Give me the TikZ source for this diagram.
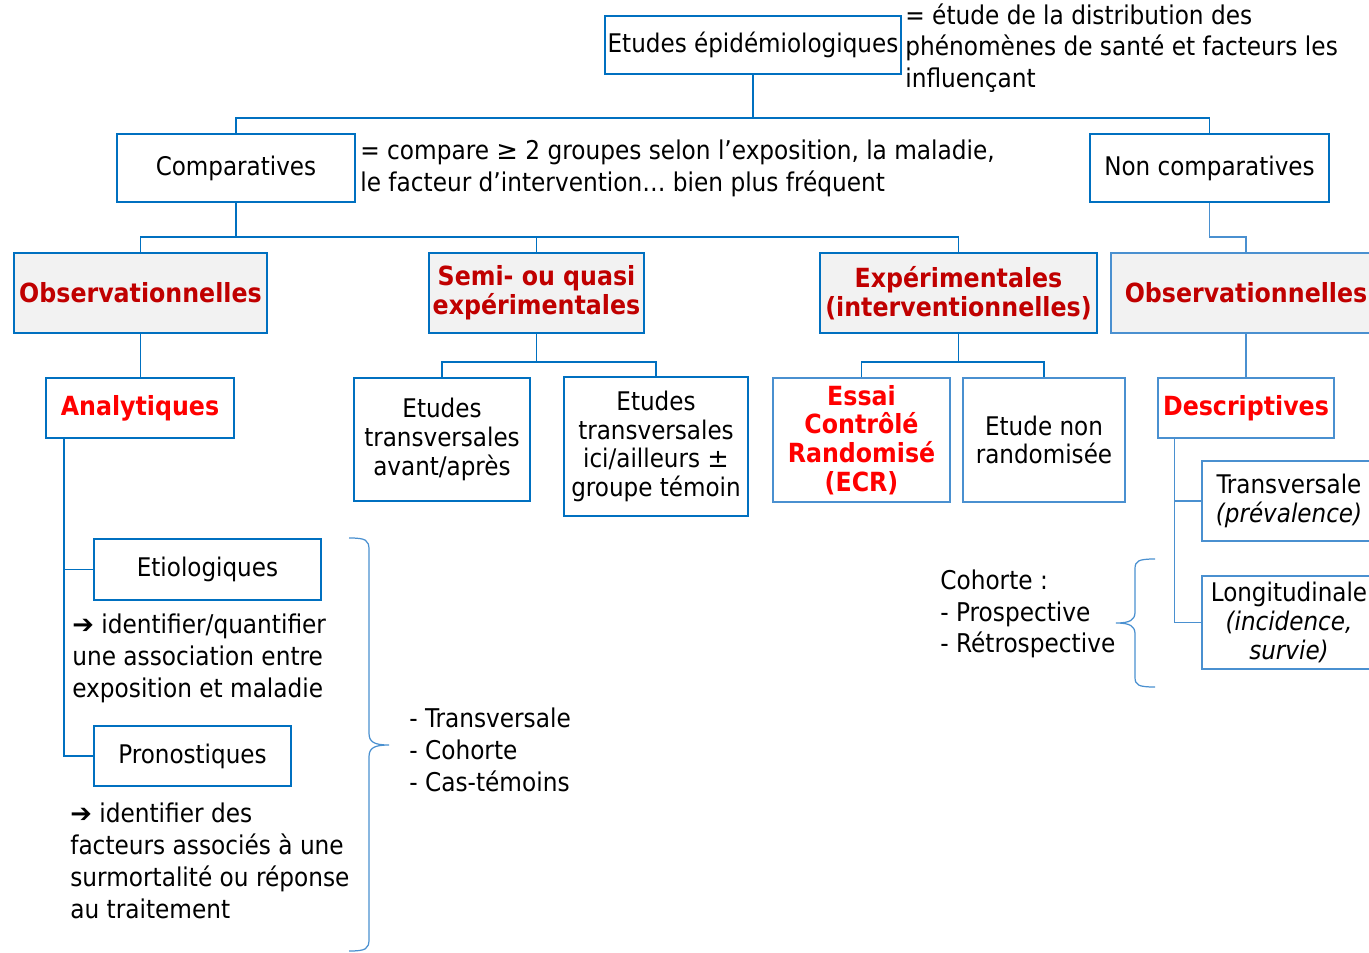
\documentclass[tikz,border=0pt]{standalone}
\usepackage{fontspec}
\setmainfont{DejaVu Sans Condensed}
\newfontfamily\symfont{DejaVu Sans}
\usetikzlibrary{backgrounds,calc}
\definecolor{lineblue}{HTML}{0070C0}
\definecolor{lightblue}{HTML}{4A90D0}
\definecolor{darkred}{HTML}{C00000}
\definecolor{boxgray}{HTML}{F2F2F2}

\begin{document}
\begin{tikzpicture}[x=0.02cm,y=-0.02cm]
    % `catbox' is used for the plain white boxes, `thinbox' for the lighter ones.
    % `family' is used for the grey boxes with dark red titles.
    % `note' is used for the free texts, `brace' for the curly brackets.
    \tikzstyle{catbox} = [draw=lineblue,line width=1.1pt,fill=white,inner sep=1pt,align=center,font=\fontsize{14.6}{16.4}\selectfont]
    \tikzstyle{thinbox} = [catbox,draw=lightblue,line width=0.75pt]
    \tikzstyle{family} = [catbox,fill=boxgray,text=darkred,font=\fontsize{15}{16.4}\bfseries\selectfont]
    \tikzstyle{redtitle} = [text=red,font=\fontsize{15}{16.4}\bfseries\selectfont]
    \tikzstyle{note} = [align=left,inner sep=0pt,anchor=west,font=\fontsize{14.7}{18.1}\selectfont]
    \tikzstyle{link} = [draw=lineblue,line width=1.1pt]
    \tikzstyle{thinlink} = [draw=lightblue,line width=0.75pt]
    \tikzstyle{brace} = [draw=lightblue,line width=0.7pt]
    %
    \useasboundingbox (0,0) rectangle (1369,953);
    % top levels
    \node[catbox,minimum width=5.92cm,minimum height=1.16cm] (epi) at (753,45) {Etudes épidémiologiques};
    \node[note] (epinote) at (905,48) {= étude de la distribution des\\phénomènes de santé et facteurs les\\influençant};
    \node[catbox,minimum width=4.76cm,minimum height=1.36cm] (comp) at (236,168) {Comparatives};
    \node[note] (compnote) at (360,168) {= compare {\symfont≥} 2 groupes selon l’exposition, la maladie,\\le facteur d’intervention… bien plus fréquent};
    \node[catbox,minimum width=4.78cm,minimum height=1.36cm] (noncomp) at (1209.5,168) {Non comparatives};
    % families
    \node[family,minimum width=5.06cm,minimum height=1.6cm] (obsL) at (140.5,293) {Observationnelles};
    \node[family,minimum width=4.3cm,minimum height=1.6cm] (semi) at (536.5,293) {Semi- ou quasi\\expérimentales};
    \node[family,minimum width=5.54cm,minimum height=1.6cm] (exp) at (958.5,293) {Expérimentales\\(interventionnelles)};
    \node[family,draw=lightblue,line width=0.75pt,minimum width=5.4cm,minimum height=1.6cm] (obsR) at (1246,293) {Observationnelles};
    % third row
    \node[catbox,redtitle,minimum width=3.76cm,minimum height=1.2cm] (analyt) at (140,408) {Analytiques};
    \node[catbox,minimum width=3.52cm,minimum height=2.46cm] (avant) at (442,439.5) {Etudes\\transversales\\avant/après};
    \node[catbox,minimum width=3.68cm,minimum height=2.78cm] (ici) at (656,446.5) {Etudes\\transversales\\ici/ailleurs {\symfont±}\\groupe témoin};
    \node[thinbox,redtitle,minimum width=3.54cm,minimum height=2.48cm] (ecr) at (861.5,440) {Essai\\Contrôlé\\Randomisé\\(ECR)};
    \node[thinbox,minimum width=3.24cm,minimum height=2.48cm] (nonrand) at (1044,440) {Etude non\\randomisée};
    \node[thinbox,redtitle,minimum width=3.52cm,minimum height=1.2cm] (descr) at (1246,408) {Descriptives};
    % analytic and descriptive kinds
    \node[catbox,minimum width=4.54cm,minimum height=1.22cm] (etio) at (207.5,569.5) {Etiologiques};
    \node[note] (etionote) at (72,658.5) {{\symfont\bfseries➔} identifier/quantifier\\une association entre\\exposition et maladie};
    \node[catbox,minimum width=3.94cm,minimum height=1.2cm] (prono) at (192.5,756) {Pronostiques};
    \node[note] (prononote) at (70,860.75) {{\symfont\bfseries➔} identifier des\\facteurs associés à une\\surmortalité ou réponse\\au traitement};
    \node[note] (designs) at (409,750) {- Transversale\\- Cohorte\\- Cas-témoins};
    \node[thinbox,minimum width=3.48cm,minimum height=1.6cm] (transv) at (1289,501) {Transversale\\\textit{(prévalence)}};
    \node[thinbox,minimum width=3.48cm,minimum height=1.86cm] (longi) at (1289,622.5) {Longitudinale\\\textit{(incidence,}\\\textit{survie)}};
    \node[note] (cohnote) at (940,614) {Cohorte :\\- Prospective\\- Rétrospective};
    % brackets
    \draw[brace] (349,538) .. controls (366,538) and (369,540) .. (369,550) -- (369,733)
                 .. controls (369,742) and (374,745) .. (389,745)
                 .. controls (374,745) and (369,748) .. (369,757) -- (369,939)
                 .. controls (369,949) and (366,951) .. (349,951);
    \draw[brace] (1155,559) .. controls (1138,559) and (1135,561) .. (1135,569) -- (1135,612)
                 .. controls (1135,620) and (1130,623) .. (1116,623)
                 .. controls (1130,623) and (1135,626) .. (1135,634) -- (1135,677)
                 .. controls (1135,685) and (1138,687) .. (1155,687);
    \begin{pgfonlayer}{background}
        % Draw the tree lines.
        \draw[link] (epi.south) -- ++(0,43) -| (comp.north);
        \draw[link] (epi.south) ++(0,43) -| (noncomp.north);
        \draw[link] (comp.south) -- ++(0,34) -| (obsL.north);
        \draw[link] (comp.south) ++(0,34) -| (semi.north);
        \draw[link] (comp.south) ++(0,34) -| (exp.north);
        \draw[thinlink] (noncomp.south) -- ++(0,34) -| (obsR.north);
        \draw[link] (obsL.south) -- (obsL.south |- analyt.north);
        \draw[link] (semi.south) -- ++(0,28) -| (avant.north);
        \draw[link] (semi.south) ++(0,28) -| (ici.north);
        \draw[link] (exp.south) -- ++(0,28) -| (ecr.north);
        \draw[link] (exp.south) ++(0,28) -| (nonrand.north);
        \draw[thinlink] (obsR.south) -- (descr.north);
        \draw[link] (analyt.south west) ++(19,0) coordinate (atrunk) |- (etio.west);
        \draw[link] (atrunk) |- (prono.west);
        \draw[thinlink] (descr.south west) ++(17,0) coordinate (dtrunk) |- (transv.west);
        \draw[thinlink] (dtrunk) |- (longi.west);
    \end{pgfonlayer}
\end{tikzpicture}
\end{document}
